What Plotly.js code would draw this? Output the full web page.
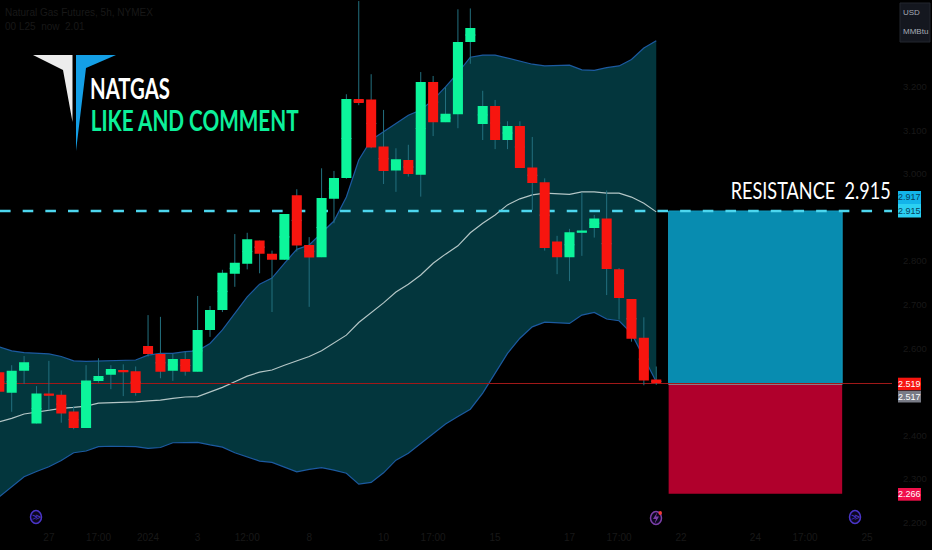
<!DOCTYPE html>
<html><head><meta charset="utf-8">
<script src="https://cdn.plot.ly/plotly-3.0.1.min.js"></script>
<style>html,body{margin:0;padding:0;background:#000;overflow:hidden}#c{width:932px;height:550px}</style>
</head><body><div id="c"></div>
<script>
// Candle values (USD/MMBtu)
var open_=[2.545,2.498,2.548,2.427,2.496,2.493,2.455,2.417,2.525,2.539,2.550,2.547,2.605,2.587,2.548,2.575,2.546,2.642,2.688,2.771,2.794,2.847,2.817,2.803,2.951,2.837,2.809,2.943,2.991,3.172,3.171,3.063,3.008,3.032,2.998,3.211,3.119,3.137,3.303,3.115,3.156,3.078,3.110,3.015,2.981,2.845,2.809,2.865,2.876,2.898,2.781,2.713,2.624,2.528];
var high_=[2.559,2.561,2.582,2.513,2.571,2.503,2.467,2.561,2.577,2.561,2.563,2.558,2.676,2.672,2.587,2.592,2.720,2.697,2.780,2.862,2.865,2.847,2.824,2.908,2.965,2.855,3.013,3.007,3.183,3.397,3.229,3.147,3.059,3.067,3.234,3.225,3.199,3.378,3.380,3.191,3.170,3.121,3.121,3.085,2.990,2.858,2.874,2.957,2.906,2.962,2.784,2.713,2.671,2.558];
var low_=[2.490,2.454,2.518,2.427,2.458,2.429,2.414,2.417,2.521,2.506,2.490,2.491,2.581,2.531,2.525,2.537,2.546,2.626,2.683,2.741,2.781,2.772,2.683,2.803,2.822,2.695,2.809,2.887,2.989,3.158,3.059,2.977,2.959,2.994,2.948,3.087,3.119,3.105,3.253,3.078,3.057,3.057,3.014,2.917,2.824,2.770,2.754,2.812,2.854,2.722,2.666,2.615,2.515,2.516];
var close_=[2.500,2.548,2.568,2.496,2.491,2.450,2.417,2.526,2.536,2.552,2.545,2.497,2.587,2.546,2.575,2.546,2.642,2.688,2.773,2.796,2.850,2.817,2.803,2.908,2.836,2.808,2.945,2.991,3.172,3.163,3.061,3.007,3.034,3.000,3.211,3.119,3.138,3.303,3.335,3.156,3.078,3.110,3.014,2.979,2.830,2.809,2.866,2.870,2.898,2.782,2.715,2.622,2.526,2.520];
// Bollinger bands
var bandUpper=[2.603,2.594,2.590,2.588,2.587,2.581,2.571,2.570,2.571,2.572,2.573,2.573,2.584,2.588,2.588,2.592,2.594,2.611,2.642,2.681,2.718,2.747,2.761,2.795,2.827,2.837,2.864,2.892,2.947,3.032,3.078,3.097,3.114,3.135,3.147,3.170,3.200,3.232,3.268,3.273,3.273,3.266,3.260,3.252,3.248,3.249,3.250,3.239,3.238,3.244,3.248,3.263,3.289,3.306];
var bandBasis=[2.431,2.439,2.449,2.453,2.458,2.462,2.464,2.467,2.474,2.475,2.475,2.477,2.479,2.481,2.485,2.488,2.489,2.499,2.510,2.523,2.536,2.545,2.550,2.561,2.571,2.581,2.594,2.611,2.630,2.659,2.681,2.704,2.729,2.747,2.768,2.795,2.816,2.835,2.865,2.887,2.906,2.929,2.943,2.952,2.956,2.954,2.953,2.959,2.959,2.956,2.956,2.947,2.933,2.913];
var bandLower=[2.259,2.282,2.305,2.317,2.328,2.342,2.360,2.364,2.374,2.375,2.375,2.374,2.370,2.372,2.383,2.384,2.384,2.378,2.373,2.360,2.351,2.341,2.338,2.327,2.316,2.322,2.326,2.320,2.313,2.288,2.292,2.314,2.343,2.359,2.382,2.405,2.426,2.443,2.460,2.497,2.542,2.588,2.623,2.649,2.660,2.659,2.657,2.676,2.682,2.667,2.663,2.634,2.577,2.523];
// Levels
var resistance=2.915, lastPrice=2.519, entry=2.517, stop=2.266;
var positionStart=54, positionEnd=68;
// Axis labels
var xTickIdx=[0,4,8,12,16,20,25,31,35,40,46,50,55,61,65,70];
var xTickText=['26','27','17:00','2024','3','12:00','8','10','17:00','15','17','17:00','22','24','17:00','25'];
var yTickVals=[2.2,2.3,2.4,2.6,2.7,2.8,3.0,3.1,3.2];
var yTickText=['2.200','2.300','2.400','2.600','2.700','2.800','3.000','3.100','3.200'];

var idx=open_.map(function(_,i){return i;});
var PW=892,PH=530;
function px(x){return x/PW;}
function py(y){return 1-y/PH;}
var xr=[0.056,72.02], yr=[3.3994-PH*0.0022957,3.3994];
var FONT='Lato, sans-serif';
var dim='#181818';

var bandLine={color:'#1c5aa0',width:1.2};
var traces=[
 {type:'scatter',mode:'lines',x:idx,y:bandLower,line:bandLine,hoverinfo:'skip'},
 {type:'scatter',mode:'lines',x:idx,y:bandUpper,line:bandLine,fill:'tonexty',fillcolor:'#03363d',hoverinfo:'skip'},
 {type:'scatter',mode:'lines',x:idx,y:bandBasis,line:{color:'#b4c6c6',width:1.2},hoverinfo:'skip'},
 {type:'scatter',mode:'lines',x:[xr[0],xr[1]],y:[lastPrice,lastPrice],line:{color:'#a01818',width:1},hoverinfo:'skip'},
 {type:'scatter',mode:'lines',x:[xr[0],xr[1]],y:[resistance,resistance],line:{color:'#4dd6ee',width:2.6,dash:'10.6px,12.07px'},hoverinfo:'skip'},
 {type:'candlestick',x:idx,yaxis:'y2',open:idx.map(function(i){return (open_[i]+close_[i])/2;}),close:idx.map(function(i){return (open_[i]+close_[i])/2;}),high:high_,low:low_,
  increasing:{line:{color:'#23707f',width:1},fillcolor:'rgba(0,0,0,0)'},decreasing:{line:{color:'#23707f',width:1},fillcolor:'rgba(0,0,0,0)'},hoverinfo:'skip'},
 {type:'candlestick',x:idx,yaxis:'y2',open:open_,close:close_,
  high:idx.map(function(i){return Math.max(open_[i],close_[i]);}),low:idx.map(function(i){return Math.min(open_[i],close_[i]);}),
  increasing:{line:{color:'#0cf59b',width:0},fillcolor:'#0cf59b'},decreasing:{line:{color:'#f7150f',width:0},fillcolor:'#f7150f'},hoverinfo:'skip'}
];

function poly(pts,color){
 var d=pts.map(function(p,i){return (i?'L':'M')+px(p[0])+','+py(p[1]);}).join(' ')+' Z';
 return {type:'path',xref:'paper',yref:'paper',path:d,fillcolor:color,line:{width:0},layer:'above'};
}
function ring(cx,cy,color){
 return {type:'circle',xref:'paper',yref:'paper',x0:px(cx-5.5),x1:px(cx+5.5),y0:py(cy+6.5),y1:py(cy-6.5),line:{color:color,width:1.5},fillcolor:'rgba(20,12,50,0.6)',layer:'above'};
}
function tagBox(y0,y1,color){
 return {type:'rect',xref:'paper',yref:'paper',x0:px(898),x1:px(921),y0:py(y1),y1:py(y0),fillcolor:color,line:{width:0},layer:'above'};
}
var shapes=[
 {type:'rect',xref:'x',yref:'y',x0:positionStart,x1:positionEnd,y0:entry,y1:resistance,fillcolor:'#088cb0',line:{color:'#1298bc',width:1},layer:'below'},
 {type:'rect',xref:'x',yref:'y',x0:positionStart,x1:positionEnd,y0:stop,y1:entry,fillcolor:'#b0002c',line:{width:0},layer:'below'},
 {type:'line',xref:'x',yref:'y',x0:positionStart,x1:positionEnd,y0:entry,y1:entry,line:{color:'#8a8a92',width:1},layer:'below'},
 poly([[33,55],[72.5,55],[72.5,122],[63,70]],'#ececec'),
 poly([[76,55],[116,55],[86,68],[76,151]],'#149fe6'),
 ring(36,517,'#4a35c8'),ring(855,517,'#4a35c8'),ring(656,518,'#7b3fa8'),
 poly([[657.5,512],[653,519],[656,519],[654.5,524],[659,516.5],[656,516.5]],'#7b3fa8'),
 {type:'circle',xref:'paper',yref:'paper',x0:px(658.5),x1:px(662),y0:py(515),y1:py(511),fillcolor:'#f03a3a',line:{width:0},layer:'above'},
 {type:'rect',xref:'paper',yref:'paper',x0:px(900),x1:px(930),y0:py(42),y1:py(3),fillcolor:'#14171f',line:{color:'#23262e',width:1},layer:'above'},
 tagBox(191,204,'#13b4ea'),tagBox(204,217.5,'#2bd0f2'),tagBox(377.7,390.2,'#f7150f'),tagBox(390.7,402.5,'#787b86'),tagBox(488,500.7,'#f0104a')
];
function txt(x,y,t,size,color,anchor,fam){
 return {xref:'paper',yref:'paper',x:px(x),y:py(y),text:t,showarrow:false,xanchor:anchor||'left',yanchor:'middle',font:{family:fam||FONT,size:size,color:color},borderpad:0,borderwidth:0};
}
function tag(cy,t,color){
 return txt(909.5,cy,t,9,color,'center','Liberation Sans, sans-serif');
}
var annotations=[
 txt(130,88,'NATGAS',29,'#ffffff','center',FONT),
 txt(194,119.5,'LIKE AND COMMENT',29,'#0cf09a','center',FONT),
 txt(810,190,'RESISTANCE&nbsp;&nbsp;2.915',23,'#ffffff','center',FONT),
 txt(5,13,'Natural Gas Futures, 5h, NYMEX',10,dim,'left','Liberation Sans, sans-serif'),
 txt(5,27,'00 L25  now  2.01',10,dim,'left','Liberation Sans, sans-serif'),
 tag(197.5,'2.917','#07405c'),
 tag(211,'2.915','#07405c'),
 tag(384,'2.519','#ffffff'),
 tag(396.6,'2.517','#ffffff'),
 tag(494.4,'2.266','#ffffff'),
 txt(911,13,'USD',8,'#a6acb5','center','Liberation Sans, sans-serif'),
 txt(915,32,'MMBtu',8,'#a6acb5','center','Liberation Sans, sans-serif'),
 txt(36,517,'≫',9,'#4a35c8','center','DejaVu Sans, sans-serif'),
 txt(855,517,'≫',9,'#4a35c8','center','DejaVu Sans, sans-serif')
];
annotations[0].font.weight=700;annotations[1].font.weight=700;
var layout={
 width:932,height:550,paper_bgcolor:'#000',plot_bgcolor:'#000',showlegend:false,
 margin:{l:0,r:40,t:0,b:20,pad:0},hovermode:false,dragmode:false,
 boxgap:0.19,boxgroupgap:0,boxmode:'overlay',
 xaxis:{type:'linear',range:xr,showgrid:false,zeroline:false,showline:false,ticks:'',tickmode:'array',tickvals:xTickIdx,ticktext:xTickText,tickfont:{family:'Liberation Sans, sans-serif',size:10,color:dim},rangeslider:{visible:false},fixedrange:true},
 yaxis:{side:'right',range:yr,showgrid:false,zeroline:false,showline:false,ticks:'',tickmode:'array',tickvals:yTickVals,ticktext:yTickText,ticklabelstandoff:10,tickfont:{family:'Liberation Sans, sans-serif',size:9.5,color:dim},fixedrange:true},
 yaxis2:{overlaying:'y',side:'right',range:yr,visible:false,fixedrange:true},
 shapes:shapes,annotations:annotations
};
Plotly.newPlot('c',traces,layout,{displayModeBar:false,staticPlot:true}).then(function(){
 var widths=[80,208,160];
 var nodes=document.querySelectorAll('.annotation-text');
 widths.forEach(function(w,i){
  var n=nodes[i], cx=parseFloat(n.getAttribute('x'))||0, s=w/n.getComputedTextLength();
  n.setAttribute('transform','translate('+cx+',0) scale('+s+',1) translate('+(-cx)+',0)');
 });
});
</script></body></html>
